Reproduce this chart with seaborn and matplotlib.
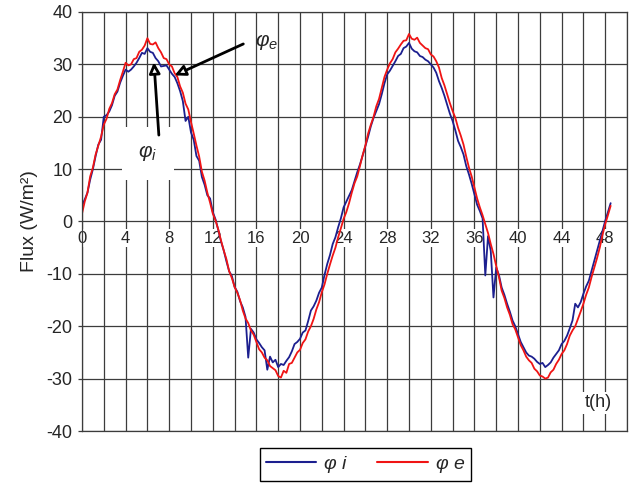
import numpy as np
import matplotlib

matplotlib.use("Agg")
import matplotlib.pyplot as plt
import seaborn as sns
from matplotlib.lines import Line2D

sns.set_style("white")
plt.rcParams['font.family'] = ['Liberation Sans', 'DejaVu Sans']
plt.rcParams['axes.unicode_minus'] = False
plt.rcParams['mathtext.fontset'] = 'custom'
plt.rcParams['mathtext.rm'] = 'Liberation Sans'
plt.rcParams['mathtext.it'] = 'Liberation Sans:italic'

# ===================== data =====================
# sampling times every 15 min, 0 .. 48.5 h
t = np.arange(0, 48.51, 0.25)

# phi_i (blue, inside flux)
phi_i = [
    3.0, 4.2, 5.5, 8.0,
    10.0, 12.5, 14.7, 15.6,
    20.0, 20.3, 21.0, 22.2,
    24.0, 24.8, 26.5, 27.8,
    29.0, 28.6, 29.0, 29.6,
    30.3, 31.2, 32.2, 32.0,
    33.1, 32.4, 32.2, 31.2,
    30.6, 29.6, 29.7, 29.8,
    29.0, 28.2, 27.6, 26.4,
    24.9, 23.0, 19.2, 20.0,
    17.0, 15.6, 12.5, 11.6,
    8.5, 7.0, 5.0, 4.4,
    1.8, 0.4, -1.6, -3.8,
    -5.5, -7.6, -9.5, -10.4,
    -12.5, -13.4, -15.2, -16.4,
    -18.2, -26.0, -20.5, -21.2,
    -22.5, -23.2, -24.0, -24.6,
    -28.3, -25.8, -26.9, -26.4,
    -27.8, -27.2, -27.4, -26.6,
    -25.9, -24.8, -23.4, -23.0,
    -22.4, -21.2, -20.8, -19.0,
    -17.0, -16.2, -15.1, -13.6,
    -12.6, -10.2, -8.1, -6.4,
    -4.3, -3.0, -1.1, 0.6,
    2.7, 3.8, 4.9, 6.0,
    7.7, 9.4, 10.9, 12.6,
    14.4, 16.2, 18.2, 19.8,
    21.1, 22.4, 24.3, 26.4,
    28.1, 28.8, 29.7, 30.6,
    31.6, 32.0, 33.1, 33.4,
    34.1, 33.0, 32.5, 32.3,
    31.6, 31.4, 30.9, 30.6,
    30.0, 29.4, 28.4, 26.8,
    25.5, 24.0, 22.3, 20.6,
    19.2, 17.4, 15.4, 14.2,
    12.8, 10.6, 9.0, 7.2,
    5.2, 3.2, 2.0, 0.6,
    -10.3, -2.8, -5.6, -14.5,
    -8.8, -10.2, -12.6, -14.0,
    -15.7, -17.2, -18.9, -20.0,
    -21.5, -23.0, -24.0, -25.0,
    -25.6, -25.8, -26.2, -26.8,
    -27.2, -27.0, -27.8, -27.4,
    -26.9, -26.0, -25.3, -24.6,
    -23.4, -22.8, -21.8, -20.4,
    -18.9, -15.7, -16.4, -15.4,
    -13.8, -12.4, -11.3, -9.4,
    -7.5, -5.6, -3.7, -1.8,
    0.1, 1.8, 3.5,
]

# phi_e (red, outside flux)
phi_e = [
    1.5, 3.8, 5.5, 8.6,
    10.3, 12.8, 14.5, 16.2,
    18.5, 19.6, 21.5, 22.6,
    24.3, 25.2, 27.0, 28.6,
    30.3, 29.8, 30.0, 31.0,
    31.2, 32.4, 32.8, 33.6,
    35.0, 33.9, 33.8, 34.2,
    33.1, 32.3, 31.2, 31.0,
    30.0, 29.6, 28.3, 27.6,
    25.8, 24.6, 22.5, 21.4,
    19.0, 16.8, 14.5, 12.4,
    9.5, 7.8, 5.5, 3.6,
    1.5, 0.2, -1.5, -3.6,
    -5.5, -7.2, -9.5, -10.8,
    -12.5, -13.6, -15.0, -17.0,
    -18.5, -19.4, -20.8, -21.6,
    -23.0, -24.4, -25.0, -26.0,
    -26.5, -27.6, -28.0, -28.4,
    -29.5, -29.8, -28.5, -28.9,
    -27.2, -27.0, -26.0, -25.0,
    -24.5, -23.2, -22.5, -21.0,
    -20.0, -18.6, -16.8, -15.4,
    -13.5, -12.0, -10.0, -8.2,
    -6.5, -5.0, -3.0, -1.3,
    0.5, 1.8, 3.5, 5.5,
    7.3, 8.6, 10.6, 12.7,
    14.5, 16.8, 18.5, 20.0,
    22.0, 23.4, 25.5, 27.6,
    29.0, 30.2, 31.0, 32.3,
    33.0, 33.8, 34.5, 34.6,
    35.8, 34.9, 34.7, 35.1,
    34.1, 33.6, 33.1, 32.9,
    31.9, 31.5, 30.6, 29.4,
    27.4, 26.0, 24.3, 22.6,
    21.1, 19.8, 17.9, 16.4,
    14.7, 12.4, 10.3, 8.6,
    6.5, 4.4, 2.7, 1.2,
    -0.5, -2.2, -4.3, -6.2,
    -8.5, -10.6, -13.2, -14.6,
    -16.4, -17.8, -19.6, -20.6,
    -22.1, -23.6, -24.6, -25.8,
    -26.5, -27.0, -28.1, -28.6,
    -29.4, -29.6, -30.0, -29.8,
    -28.8, -28.3, -27.2, -26.4,
    -25.3, -24.6, -23.4, -21.8,
    -20.8, -20.0, -18.6, -17.2,
    -15.7, -14.0, -12.6, -10.6,
    -8.8, -7.0, -5.0, -2.6,
    -0.5, 1.2, 3.0,
]

x_labels = [0, 4, 8, 12, 16, 20, 24, 28, 32, 36, 40, 44, 48]
y_ticks = [-40, -30, -20, -10, 0, 10, 20, 30, 40]

BLUE = '#1c1f8f'
RED = '#f01414'
GRID = '#3c3c3c'

# ===================== figure =====================
fig = plt.figure(figsize=(6.4, 4.87), dpi=100)
ax = fig.add_axes([82 / 640, 1 - 431 / 487, (627 - 82) / 640, (431 - 12) / 487])

sns.lineplot(x=t, y=phi_i, color=BLUE, lw=1.3, ax=ax, estimator=None, sort=False)
sns.lineplot(x=t, y=phi_e, color=RED, lw=1.3, ax=ax, estimator=None, sort=False)

ax.set_xlim(0, 50)
ax.set_ylim(-40, 40)
ax.set_xticks(np.arange(0, 51, 2))
ax.set_xticklabels([])
ax.set_yticks(y_ticks)
ax.set_yticklabels([str(v) for v in y_ticks], fontsize=13)
ax.tick_params(axis='x', length=0)
ax.tick_params(axis='y', length=3, width=0.9, color=GRID, pad=4, left=True)
ax.set_axisbelow(True)
ax.grid(True, color=GRID, lw=0.9)
for s in ax.spines.values():
    s.set_color(GRID)
    s.set_linewidth(0.9)

# x labels sit on the zero line, with white background over the grid
for v in x_labels:
    ax.annotate(str(v), xy=(v, 0), xytext=(0, -12), textcoords='offset points',
                ha='center', va='center', fontsize=12, zorder=1.5,
                bbox=dict(fc='white', ec='none', pad=1))

ax.set_ylabel('Flux (W/m²)', fontsize=14, labelpad=6)

ax.text(47.4, -34.6, 't(h)', fontsize=13, ha='center', va='center', zorder=1.5,
        bbox=dict(fc='white', ec='none', pad=2))

# annotations
arrow = dict(arrowstyle='-|>', fc='white', ec='black', lw=2, mutation_scale=16,
             shrinkA=0, shrinkB=0)
ax.annotate('', xy=(8.5, 27.9), xytext=(14.8, 33.9), arrowprops=arrow, zorder=5)
ax.text(16.9, 34.3, r'$\varphi_e$', fontsize=15, ha='center', va='center', zorder=5)

ax.text(6.05, 13.0, r'$\varphi_i$', fontsize=15, ha='center', va='center', zorder=3,
        bbox=dict(fc='white', ec='none', boxstyle='square,pad=0.8'))
ax.annotate('', xy=(6.6, 30.4), xytext=(7.05, 16.5), arrowprops=arrow, zorder=5)

# legend under the plot, cut by the figure edge
handles = [Line2D([], [], color=BLUE, lw=1.5), Line2D([], [], color=RED, lw=1.5)]
leg = fig.legend(handles, [r'$\varphi\ i$', r'$\varphi\ e$'], loc='upper left',
                 bbox_to_anchor=(260 / 640, 1 - 448 / 487), ncol=2, frameon=True,
                 fancybox=False, edgecolor='black', framealpha=1, fontsize=14,
                 handlelength=2.6, columnspacing=1.5, handletextpad=0.35,
                 borderpad=0.3, borderaxespad=0)
leg.get_frame().set_linewidth(1.0)

fig.savefig('out.png', dpi=100)
